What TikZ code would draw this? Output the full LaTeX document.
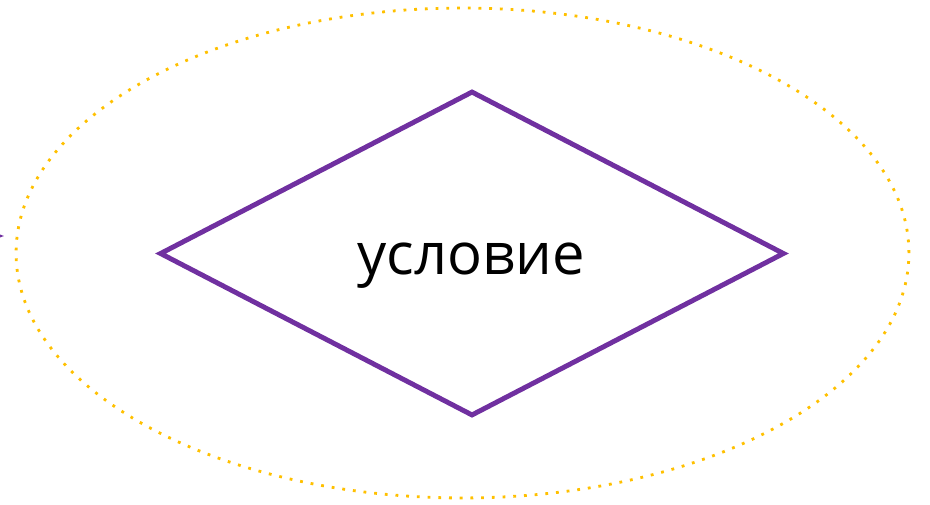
\documentclass[tikz,border=0pt]{standalone}
\usepackage{fontspec}
\setmainfont{Open Sans}
\usetikzlibrary{positioning, shapes.geometric, arrows.meta}
\definecolor{uslpurple}{HTML}{7030A0}
\definecolor{uslyellow}{HTML}{FFC000}

\begin{document}
\begin{tikzpicture}[x=0.02cm, y=0.02cm, font=\fontsize{33}{40}\selectfont]
        \useasboundingbox (0,0) rectangle (930,504);
        \node[ellipse, draw=uslyellow, line width=1.6pt, dash pattern=on 1.6pt off 4.5pt,
          minimum width=17.86cm, minimum height=9.8cm, inner sep=0pt] (scope) at (462.5,251) {};
        \node[diamond, draw=uslpurple, line width=2.8pt, minimum width=12.5cm,
          minimum height=6.5cm, inner sep=0pt] (cond) at (472,250.5) {};
        \node[anchor=base] (condtext) at (471,229) {условие};
        \coordinate (in) at (-20,268);
        \coordinate (inend) at (4,268);
        \draw[uslpurple, line width=2pt, -{Stealth[length=8pt]}] (in) -- (inend);
      \end{tikzpicture}
\end{document}
